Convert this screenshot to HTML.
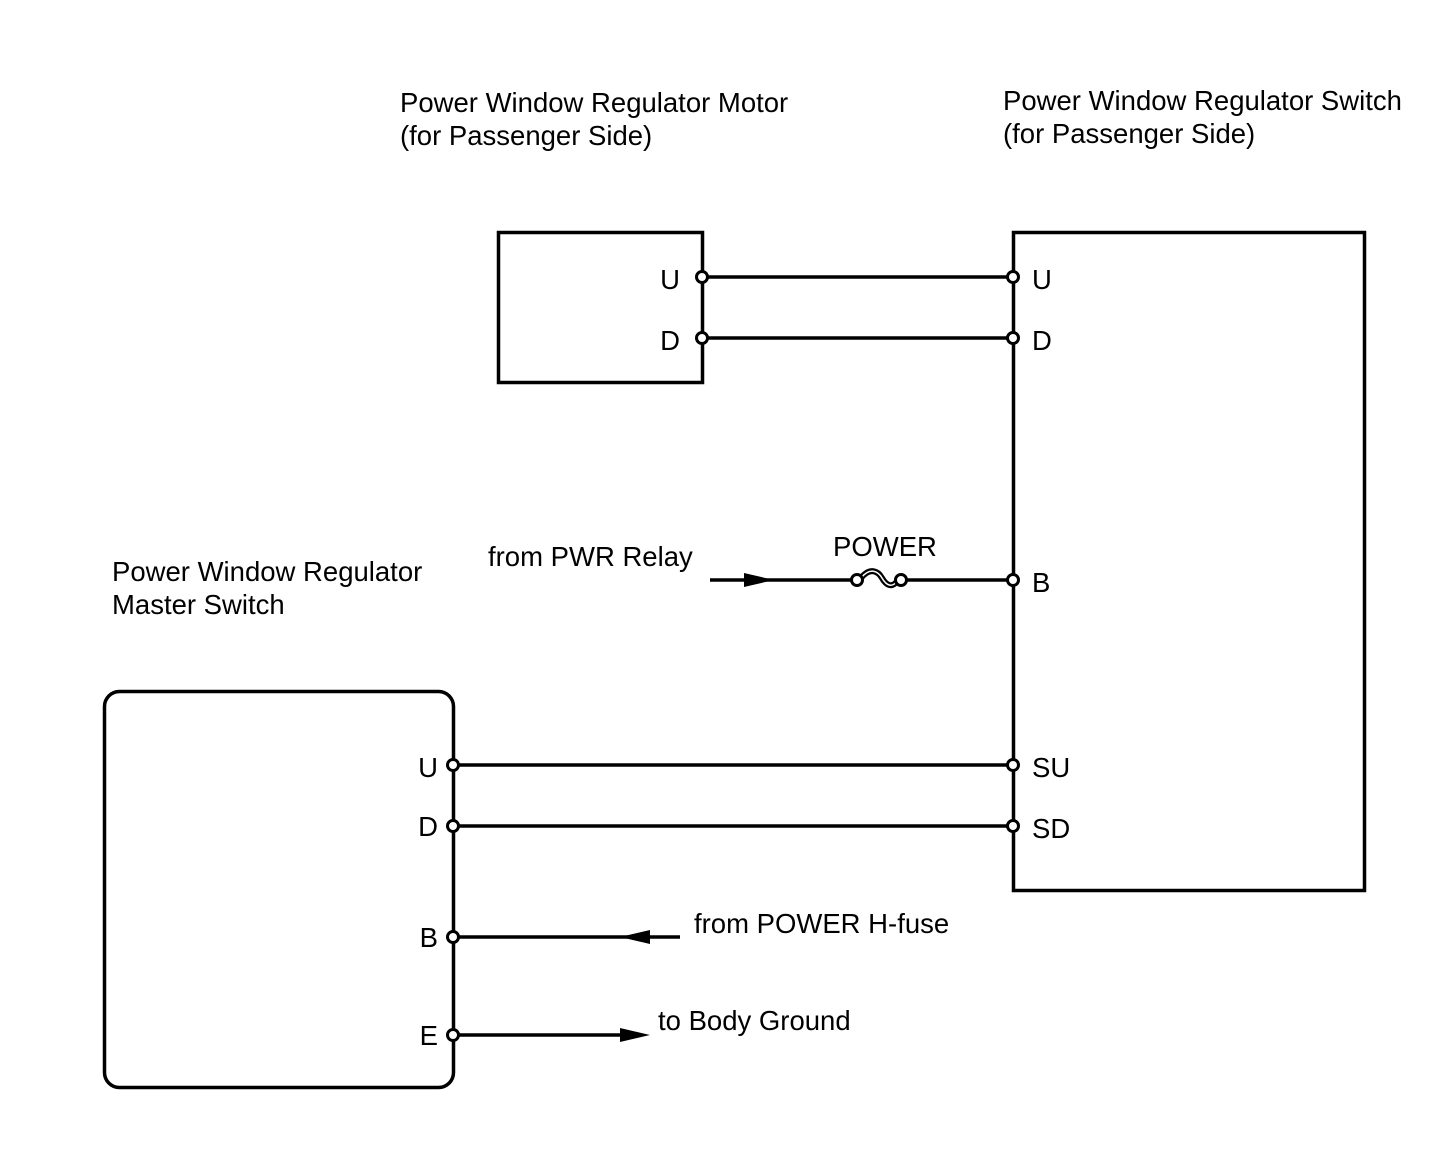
<!DOCTYPE html>
<html><head><meta charset="utf-8"><style>
html,body{margin:0;padding:0;background:#fff;}
svg{display:block;}
text{font-family:"Liberation Sans",Arial,sans-serif;font-size:27.5px;fill:#000;}
</style></head><body>
<svg width="1436" height="1152" viewBox="0 0 1436 1152" xmlns="http://www.w3.org/2000/svg">
<g fill="none" stroke="#000" stroke-width="3.5">
<rect x="498.5" y="232.5" width="204" height="150"/>
<rect x="1013.5" y="232.5" width="351" height="658"/>
<rect x="104.5" y="691.5" width="349" height="396" rx="15"/>
<line x1="702" y1="277" x2="1013" y2="277"/>
<line x1="702" y1="338" x2="1013" y2="338"/>
<line x1="710" y1="580" x2="852" y2="580"/>
<line x1="906" y1="580" x2="1013" y2="580"/>
<line x1="453" y1="765" x2="1013" y2="765"/>
<line x1="453" y1="826" x2="1013" y2="826"/>
<line x1="453" y1="937" x2="680" y2="937"/>
<line x1="453" y1="1035" x2="625" y2="1035"/>
<path d="M861 578 C870 567 878 571 882 578 C886 585 892 589 898 580" stroke-width="6"/>
<path d="M861 578 C870 567 878 571 882 578 C886 585 892 589 898 580" stroke="#fff" stroke-width="1.5"/>
</g>
<g fill="#000">
<polygon points="744,573 774,580 744,587"/>
<polygon points="650,930 620,937 650,944"/>
<polygon points="620,1028 650,1035 620,1042"/>
</g>
<g fill="#fff" stroke="#000" stroke-width="3">
<circle cx="702" cy="277" r="5.5"/><circle cx="702" cy="338" r="5.5"/>
<circle cx="1013" cy="277" r="5.5"/><circle cx="1013" cy="338" r="5.5"/>
<circle cx="1013" cy="580" r="5.5"/><circle cx="1013" cy="765" r="5.5"/><circle cx="1013" cy="826" r="5.5"/>
<circle cx="857" cy="580" r="5.5"/><circle cx="901" cy="580" r="5.5"/>
<circle cx="453" cy="765" r="5.5"/><circle cx="453" cy="826" r="5.5"/>
<circle cx="453" cy="937" r="5.5"/><circle cx="453" cy="1035" r="5.5"/>
</g>
<text x="400" y="112">Power Window Regulator Motor</text>
<text x="400" y="145">(for Passenger Side)</text>
<text x="1003" y="110">Power Window Regulator Switch</text>
<text x="1003" y="143">(for Passenger Side)</text>
<text x="112" y="581">Power Window Regulator</text>
<text x="112" y="614">Master Switch</text>
<text x="488" y="566">from PWR Relay</text>
<text x="833" y="556">POWER</text>
<text x="694" y="933">from POWER H-fuse</text>
<text x="658" y="1030">to Body Ground</text>
<text x="680" y="289" text-anchor="end">U</text>
<text x="680" y="350" text-anchor="end">D</text>
<text x="1032" y="289">U</text>
<text x="1032" y="350">D</text>
<text x="1032" y="592">B</text>
<text x="1032" y="777">SU</text>
<text x="1032" y="838">SD</text>
<text x="438" y="777" text-anchor="end">U</text>
<text x="438" y="836" text-anchor="end">D</text>
<text x="438" y="947" text-anchor="end">B</text>
<text x="438" y="1045" text-anchor="end">E</text>
</svg>
</body></html>
